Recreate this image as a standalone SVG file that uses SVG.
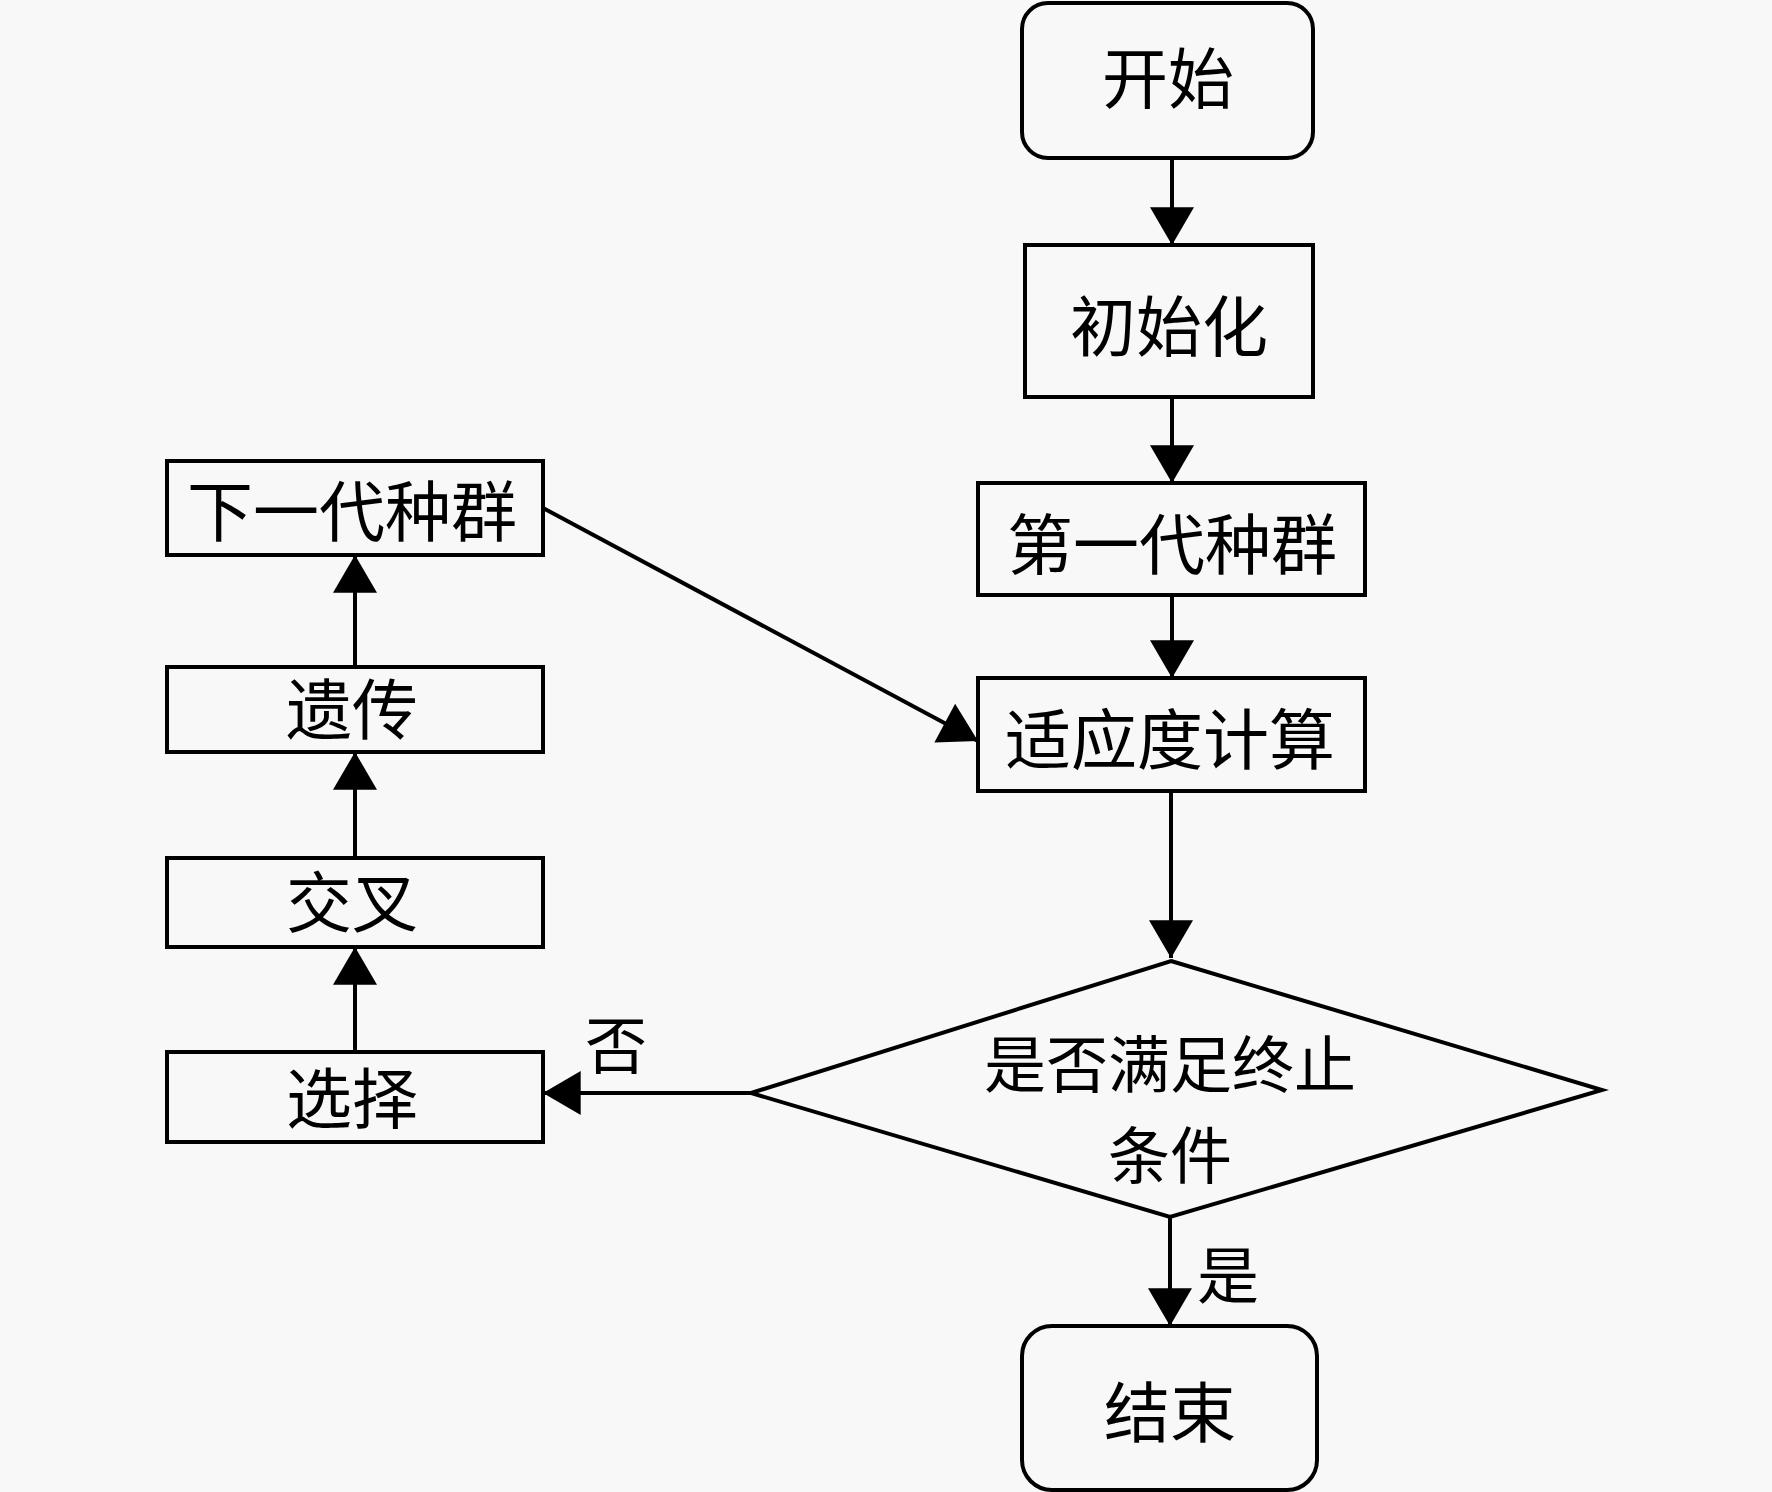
<svg xmlns="http://www.w3.org/2000/svg" width="1772" height="1492" viewBox="0 0 1772 1492">
<defs>
<style>
.box{fill:none;stroke:#000;stroke-width:4}
.edge{fill:none;stroke:#000;stroke-width:4}
text{font-family:"Noto Sans CJK SC","Noto Sans CJK JP",sans-serif;font-size:66px;fill:#000;text-anchor:middle;dominant-baseline:central}
.lbl{font-size:62px}
.dec{font-size:62px}
</style>
<marker id="ah" markerUnits="userSpaceOnUse" markerWidth="40" markerHeight="44" viewBox="0 0 36 42" refX="36" refY="21" orient="auto">
<path d="M0,0 L36,21 L0,42 z" fill="#000"/>
</marker>
</defs>
<rect x="0" y="0" width="1772" height="1492" fill="#f8f8f8"/>
<g id="start"><rect class="box" x="1022" y="3" width="291" height="155" rx="26"/><text x="1168" y="74">开始</text></g>
<g id="init"><rect class="box" x="1025" y="245" width="288" height="152"/><text x="1169" y="322">初始化</text></g>
<g id="gen1"><rect class="box" x="978" y="483" width="387" height="112"/><text x="1172" y="540">第一代种群</text></g>
<g id="fitness"><rect class="box" x="978" y="678" width="387" height="113"/><text x="1170" y="735">适应度计算</text></g>
<g id="decision"><polygon class="box" points="1171,961 1602,1090 1170,1217 751,1093"/><text class="dec" x="1170" y="1061">是否满足终止</text><text class="dec" x="1170" y="1152">条件</text></g>
<g id="end"><rect class="box" x="1022" y="1326" width="295" height="164" rx="30"/><text x="1170" y="1408">结束</text></g>
<g id="nextgen"><rect class="box" x="167" y="461" width="376" height="94"/><text x="352" y="507">下一代种群</text></g>
<g id="genetic"><rect class="box" x="167" y="667" width="376" height="85"/><text x="352" y="705">遗传</text></g>
<g id="crossover"><rect class="box" x="167" y="858" width="376" height="89"/><text x="352" y="898">交叉</text></g>
<g id="select"><rect class="box" x="167" y="1052" width="376" height="90"/><text x="352" y="1094">选择</text></g>
<g id="connectors">
<line class="edge" x1="1172" y1="158" x2="1172" y2="245" marker-end="url(#ah)"/>
<line class="edge" x1="1172" y1="397" x2="1172" y2="483" marker-end="url(#ah)"/>
<line class="edge" x1="1172" y1="595" x2="1172" y2="678" marker-end="url(#ah)"/>
<line class="edge" x1="1171" y1="791" x2="1171" y2="958" marker-end="url(#ah)"/>
<line class="edge" x1="1170" y1="1217" x2="1170" y2="1326" marker-end="url(#ah)"/>
<line class="edge" x1="751" y1="1093" x2="543" y2="1093" marker-end="url(#ah)"/>
<line class="edge" x1="355" y1="1052" x2="355" y2="947" marker-end="url(#ah)"/>
<line class="edge" x1="355" y1="858" x2="355" y2="752" marker-end="url(#ah)"/>
<line class="edge" x1="355" y1="667" x2="355" y2="555" marker-end="url(#ah)"/>
<line class="edge" x1="543" y1="508" x2="978" y2="741" marker-end="url(#ah)"/>
<text class="lbl" x="616" y="1042">否</text>
<text class="lbl" x="1228" y="1272">是</text>
</g>
</svg>
